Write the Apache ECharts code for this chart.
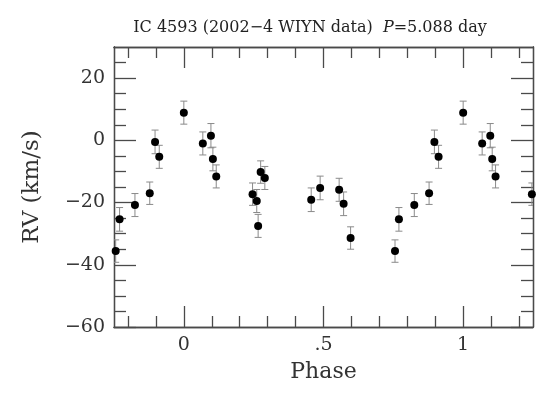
<!DOCTYPE html>
<html>
<head>
<meta charset="utf-8">
<script src="https://cdn.jsdelivr.net/npm/echarts@6/dist/echarts.min.js"></script>
<style>
  html, body { margin: 0; padding: 0; background: #fff; }
  #chart { width: 554px; height: 399px; }
</style>
</head>
<body>
<div id="chart"></div>
<script>
// phases in [0,1) with RV (km/s) and 1-sigma errors
var phase = [0.000, 0.068, 0.097, 0.104, 0.116, 0.246, 0.261, 0.266, 0.275, 0.290,
             0.456, 0.488, 0.556, 0.572, 0.597, 0.756, 0.770, 0.825, 0.878, 0.897, 0.912];
var rv    = [8.9, -1.0, 1.5, -6.0, -11.6, -17.3, -19.5, -27.5, -10.2, -12.1,
             -19.1, -15.3, -15.9, -20.4, -31.4, -35.6, -25.4, -20.8, -17.0, -0.5, -5.3];
var rvErr = [3.7, 3.7, 3.9, 3.8, 3.7, 3.6, 3.7, 3.7, 3.6, 3.7,
             3.8, 3.8, 3.7, 3.8, 3.6, 3.6, 3.8, 3.7, 3.6, 3.8, 3.7];

var xMajorTicks = [0, 0.5, 1];
var xMinorTicks = [-0.2, -0.1, 0.1, 0.2, 0.3, 0.4, 0.6, 0.7, 0.8, 0.9, 1.1, 1.2];
var yMajorTicks = [-60, -40, -20, 0, 20];
var yMinorTicks = [-55, -50, -45, -35, -30, -25, -15, -10, -5, 5, 10, 15, 25];

var X_MIN = -0.25, X_MAX = 1.25;
var Y_MIN = -60, Y_MAX = 30;

// repeat the cycle one phase to each side, keep what falls in the window
var points = [];
var bars = [];
[-1, 0, 1].forEach(function (shift) {
  for (var i = 0; i < phase.length; i++) {
    var p = phase[i] + shift;
    if (p < X_MIN || p > X_MAX) continue;
    points.push([p, rv[i]]);
    bars.push([p, rv[i] - rvErr[i], rv[i] + rvErr[i]]);
  }
});

var lineCol = "#4a4a4a";
var font = "DejaVu Serif";

function xAxisDef(pos, ticks, len, labeled) {
  return {
    type: "value", position: pos, min: X_MIN, max: X_MAX,
    axisLine: { show: true, onZero: false, lineStyle: { color: lineCol, width: 1.3 } },
    axisTick: { show: true, inside: true, length: len, customValues: ticks,
                lineStyle: { color: lineCol, width: 1.3 } },
    axisLabel: labeled ? {
      show: true, customValues: ticks, margin: 9, color: "#333",
      fontFamily: font, fontSize: 19,
      formatter: function (v) { return v === 0.5 ? ".5" : String(v); }
    } : { show: false },
    splitLine: { show: false },
    name: labeled ? "Phase" : "",
    nameLocation: "middle", nameGap: 34,
    nameTextStyle: { fontFamily: font, fontSize: 22, color: "#333" }
  };
}

function yAxisDef(pos, ticks, len, labeled) {
  return {
    type: "value", position: pos, min: Y_MIN, max: Y_MAX,
    axisLine: { show: true, onZero: false, lineStyle: { color: lineCol, width: 1.3 } },
    axisTick: { show: true, inside: true, length: len, customValues: ticks,
                lineStyle: { color: lineCol, width: 1.3 } },
    axisLabel: labeled ? {
      show: true, customValues: ticks, margin: 9, color: "#333",
      fontFamily: font, fontSize: 19,
      formatter: function (v) { return v < 0 ? "\u2212" + Math.abs(v) : String(v); }
    } : { show: false },
    splitLine: { show: false },
    name: labeled ? "RV (km/s)" : "",
    nameLocation: "middle", nameGap: 70,
    nameTextStyle: { fontFamily: font, fontSize: 23, color: "#333" }
  };
}

var chart = echarts.init(document.getElementById("chart"));
var option = {
  animation: false,
  backgroundColor: "#fff",
  title: {
    text: "{n|IC 4593 (2002\u22124 WIYN data)  }{i|P}{n|=5.088 day}",
    left: 305, top: 15, textAlign: "center",
    textStyle: {
      fontWeight: "normal",
      rich: {
        n: { fontFamily: font, fontSize: 16, fontWeight: "normal", color: "#222" },
        i: { fontFamily: font, fontSize: 16, fontWeight: "normal", fontStyle: "italic", color: "#222" }
      }
    }
  },
  grid: { left: 114, right: 21, top: 47, bottom: 72 },
  xAxis: [
    xAxisDef("bottom", xMinorTicks, 11, false),
    xAxisDef("bottom", xMajorTicks, 21, true),
    xAxisDef("top", xMinorTicks, 11, false),
    xAxisDef("top", xMajorTicks, 21, false)
  ],
  yAxis: [
    yAxisDef("left", yMinorTicks, 12, false),
    yAxisDef("left", yMajorTicks, 22, true),
    yAxisDef("right", yMinorTicks, 12, false),
    yAxisDef("right", yMajorTicks, 22, false)
  ],
  series: [
    {
      type: "custom",
      xAxisIndex: 1, yAxisIndex: 1,
      clip: true,
      data: bars,
      renderItem: function (params, api) {
        var lo = api.coord([api.value(0), api.value(1)]);
        var hi = api.coord([api.value(0), api.value(2)]);
        var cap = 3.5;
        var st = { stroke: "#8a8a8a", lineWidth: 1 };
        return {
          type: "group",
          children: [
            { type: "line", shape: { x1: lo[0], y1: lo[1], x2: hi[0], y2: hi[1] }, style: st },
            { type: "line", shape: { x1: lo[0] - cap, y1: lo[1], x2: lo[0] + cap, y2: lo[1] }, style: st },
            { type: "line", shape: { x1: hi[0] - cap, y1: hi[1], x2: hi[0] + cap, y2: hi[1] }, style: st }
          ]
        };
      },
      z: 2
    },
    {
      type: "scatter",
      xAxisIndex: 1, yAxisIndex: 1,
      clip: true,
      data: points,
      symbol: "circle",
      symbolSize: 8,
      itemStyle: { color: "#000", opacity: 1 },
      z: 3
    }
  ]
};
chart.setOption(option);
</script>
</body>
</html>
